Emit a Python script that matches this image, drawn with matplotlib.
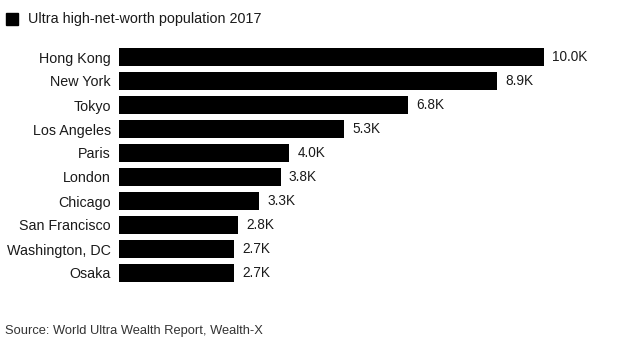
import matplotlib
matplotlib.use("Agg")
import matplotlib.pyplot as plt
from matplotlib.patches import Rectangle

cities = ["Hong Kong", "New York", "Tokyo", "Los Angeles", "Paris", "London",
          "Chicago", "San Francisco", "Washington, DC", "Osaka"]
values = [10000, 8900, 6800, 5300, 4000, 3800, 3300, 2800, 2700, 2700]
legend_label = "Ultra high-net-worth population 2017"
source = "Source: World Ultra Wealth Report, Wealth-X"

W, H = 635, 356
fig = plt.figure(figsize=(W / 100, H / 100), dpi=100)
plt.rcParams['font.family'] = ['Liberation Sans', 'DejaVu Sans']

left, right_px = 119, 635
top_px, bot_px = 45, 285
ax = fig.add_axes([left / W, 1 - bot_px / H, (right_px - left) / W, (bot_px - top_px) / H])
ax.set_xlim(0, 10000 * (right_px - left) / 425)
ax.set_ylim(len(cities) - 0.5, -0.5)

ypos = list(range(len(cities)))
ax.barh(ypos, values, height=0.75, color="black")
for y, v in zip(ypos, values):
    ax.annotate(f"{v/1000:.1f}K", (v, y), xytext=(6, 0), textcoords="offset points",
                va="center", ha="left", fontsize=9.8, color="#1a1a1a")
ax.set_yticks(ypos)
ax.set_yticklabels(cities, fontsize=10.3, color="#1a1a1a")
ax.tick_params(axis="y", length=0, pad=6)
ax.set_xticks([])
for s in ax.spines.values():
    s.set_visible(False)

fig.patches.append(Rectangle((6 / W, 1 - 25 / H), 12 / W, 12 / H, transform=fig.transFigure,
                             color="black"))
fig.text(28 / W, 1 - 19 / H, legend_label, fontsize=10.4, va="center", ha="left", color="#1a1a1a")
fig.text(5 / W, 1 - 331 / H, source, fontsize=9.3, va="center", ha="left", color="#333333")

fig.savefig("out.png", dpi=100)
